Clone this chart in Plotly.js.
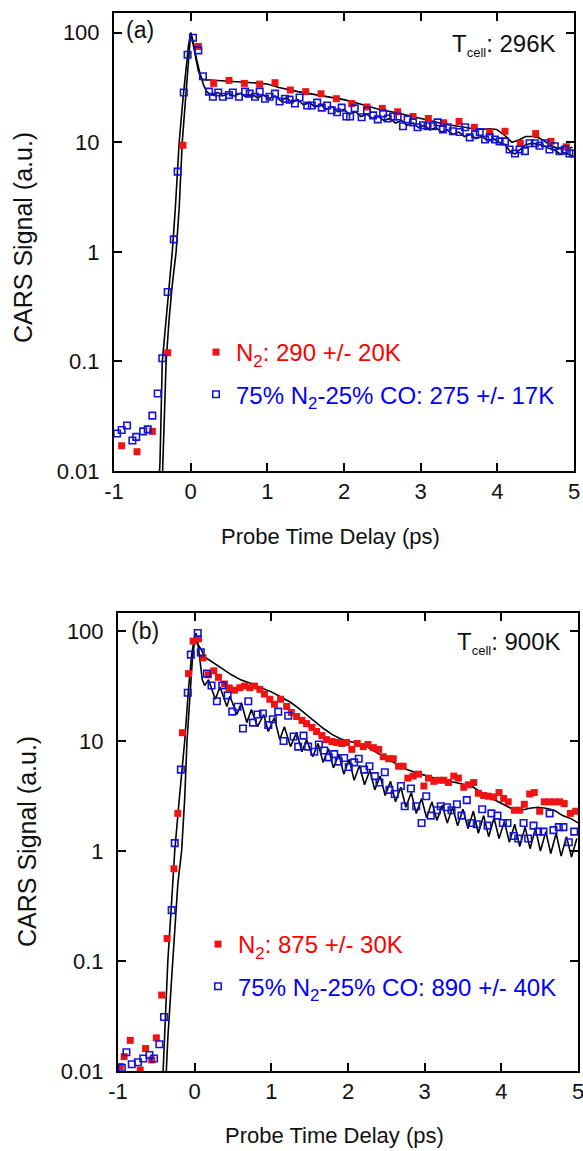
<!DOCTYPE html>
<html>
<head>
<meta charset="utf-8">
<script src="https://cdn.plot.ly/plotly-3.0.1.min.js"></script>
<style>html,body{margin:0;padding:0;background:#fff;}#chart{width:583px;height:1151px;}</style>
</head>
<body>
<div id="chart"></div>
<script>
// ---------- tick labels ----------
const xTickVals = [-1, 0, 1, 2, 3, 4, 5];
const xTickText = ['-1', '0', '1', '2', '3', '4', '5'];
const yTickVals = [0.01, 0.1, 1, 10, 100];
const yTickText = ['0.01', '0.1', '1', '10', '100'];

// ---------- panel (a): T_cell 296 K ----------
const aRedX = [-0.9,-0.7,-0.5,-0.3,-0.1,0.1,0.3,0.5,0.7,0.9,1.1,1.3,1.5,1.7,1.9,2.1,2.3,2.5,2.7,2.9,3.1,3.3,3.5,3.7,3.9,4.1,4.3,4.5,4.7,4.9];
const aRedY = [0.017,0.015,0.023,0.12,9.4,75,34.5,36.7,34.5,34,35,30,29,27.7,25,22.6,21,20.4,19,17.2,16.5,15.1,15.5,13.7,12.4,12.6,9.8,12,10.2,9.1];

const aBlueX = [-0.96,-0.90,-0.83,-0.76,-0.71,-0.62,-0.56,-0.50,-0.43,-0.37,-0.30,-0.22,-0.17,-0.09,-0.04,0.03,0.10,0.16,0.24,0.29,0.36,0.42,0.50,0.55,0.63,0.71,0.77,0.84,0.90,0.97,1.03,1.10,1.16,1.23,1.29,1.36,1.42,1.52,1.58,1.65,1.71,1.78,1.84,1.91,1.97,2.03,2.08,2.14,2.23,2.30,2.38,2.44,2.51,2.57,2.64,2.70,2.77,2.83,2.90,2.96,3.03,3.09,3.16,3.22,3.29,3.35,3.42,3.51,3.58,3.64,3.71,3.77,3.84,3.90,3.97,4.03,4.10,4.16,4.23,4.29,4.36,4.42,4.49,4.55,4.62,4.68,4.75,4.81,4.88,4.94,4.99];
const aBlueY = [0.022,0.0237,0.026,0.019,0.0205,0.023,0.024,0.032,0.051,0.107,0.43,1.3,5.4,28.5,63,90,69,40,29,26,28.5,26,27,28.5,26,29,27.8,26,29,25,26,27.8,23.6,25,24.5,22.6,25.6,21.7,21.7,23,20.7,21.7,19.6,18.8,20.7,17.2,17.2,20.4,16.9,19.5,17.6,16.2,18.3,16.5,17.2,17.2,14,16.2,15.2,13.7,14.3,14,14,15.2,13.1,13.7,12.6,12.4,13.7,11.1,11.8,12.4,10.6,11.1,10.6,10.2,10.2,8.6,7.9,8.6,8.3,9.8,9.8,9.3,9.8,8.6,9.2,8.3,8.6,7.9,7.9];

const aFitN2X = [-0.38,-0.35,-0.32,-0.28,-0.24,-0.19,-0.15,-0.11,-0.07,-0.04,-0.02,0,0.03,0.06,0.1,0.14,0.18,0.25,0.4,0.6,0.8,1.0,1.15,1.4,1.6,1.8,2.0,2.2,2.45,2.7,2.88,3.1,3.32,3.55,3.75,3.9,3.99,4.1,4.19,4.28,4.37,4.46,4.54,4.62,4.71,4.8,4.89,4.98];
const aFitN2Y = [0.005,0.02,0.1,0.25,0.5,1,2.5,10,25,50,75,100,80,60,45,38,37,37,36.5,36,35,34,31.6,29,27.5,26,24.5,22.5,20,18.5,17.2,15.8,14.6,13.8,13.1,13.3,13.1,11.5,10,10.5,11.3,11.3,11,10.2,9.2,8.8,8.6,9];

const aFitMixX = [-0.43,-0.40,-0.37,-0.33,-0.28,-0.24,-0.20,-0.15,-0.10,-0.06,-0.03,0,0.03,0.07,0.12,0.17,0.21,0.25,0.30,0.35,0.42,0.50,0.57,0.65,0.72,0.80,0.87,0.95,1.02,1.10,1.17,1.25,1.32,1.40,1.47,1.55,1.62,1.70,1.77,1.85,1.92,2.00,2.07,2.15,2.22,2.30,2.37,2.45,2.52,2.60,2.67,2.75,2.82,2.90,2.97,3.05,3.12,3.20,3.27,3.35,3.42,3.50,3.57,3.65,3.72,3.80,3.87,3.95,4.02,4.10,4.17,4.23,4.30,4.37,4.45,4.52,4.60,4.67,4.75,4.82,4.90,5.00];
const aFitMixY = [0.005,0.012,0.1,0.2,0.45,1,2.5,10,25,50,75,100,85,60,43,33,29,27.5,27,28.5,26.5,28,26.5,28,26,27.5,25.5,27,25,26.5,24,25.5,23,24.5,22,23,21,22,20,21,19,20,18,19,17.2,18,16.5,17.2,15.8,16.5,15,15.8,14.3,15,13.6,14.3,13,13.6,12.4,13,11.8,12.4,11.3,11.8,10.8,11.3,10.4,10.8,10,9.5,8.2,7.8,8.6,9.5,9.8,9.6,9.4,8.8,8.5,7.8,7.9,7.4];

// ---------- panel (b): T_cell 900 K ----------
const bRedX = [-0.97,-0.92,-0.84,-0.71,-0.64,-0.56,-0.50,-0.43,-0.36,-0.27,-0.22,-0.16,-0.08,-0.02,0.05,0.11,0.18,0.25,0.31,0.39,0.45,0.52,0.59,0.65,0.72,0.78,0.85,0.91,0.98,1.04,1.12,1.20,1.26,1.33,1.40,1.46,1.53,1.59,1.66,1.72,1.79,1.85,1.92,1.98,2.05,2.12,2.20,2.26,2.33,2.40,2.46,2.53,2.59,2.66,2.72,2.78,2.85,2.92,2.99,3.05,3.12,3.18,3.25,3.31,3.38,3.44,3.51,3.57,3.64,3.70,3.77,3.83,3.90,3.97,4.03,4.09,4.17,4.24,4.30,4.37,4.43,4.50,4.56,4.63,4.69,4.76,4.82,4.90,4.97];
const bRedY = [0.011,0.0135,0.019,0.0102,0.016,0.0126,0.020,0.049,0.16,0.69,2.2,11.9,41,81,85,57,40,43.5,38,33,30.4,29,30.5,31.6,30.5,31.6,29.5,26.7,24,21.6,24,20.6,18.2,16.7,15.4,14.4,13.3,12.2,11.2,10.3,9.9,9.7,9.5,9.7,8.4,9.5,8.9,9.3,8.7,8.4,7.2,6.9,6.9,5.9,5.9,4.6,4.8,5.0,3.9,4.6,4.3,4.4,4.4,4.2,4.8,4.6,3.8,4.0,4.2,3.35,3.2,3.15,3.1,3.4,3.0,2.8,2.35,2.35,2.66,3.3,3.4,2.3,2.8,2.8,2.8,2.8,2.7,2.2,2.3];

const bBlueX = [-0.95,-0.89,-0.82,-0.74,-0.67,-0.59,-0.53,-0.46,-0.40,-0.30,-0.26,-0.18,-0.09,-0.05,0.04,0.08,0.16,0.22,0.29,0.36,0.43,0.49,0.56,0.63,0.70,0.76,0.82,0.89,0.96,1.02,1.09,1.16,1.22,1.29,1.35,1.42,1.48,1.56,1.62,1.69,1.75,1.82,1.88,1.95,2.01,2.08,2.14,2.21,2.28,2.35,2.41,2.48,2.54,2.61,2.69,2.74,2.82,2.89,2.96,3.02,3.08,3.16,3.21,3.29,3.35,3.42,3.48,3.55,3.61,3.68,3.75,3.82,3.87,3.95,4.02,4.08,4.16,4.22,4.29,4.35,4.42,4.48,4.55,4.63,4.68,4.75,4.81,4.88,4.95];
const bBlueY = [0.0107,0.0148,0.0115,0.012,0.013,0.014,0.013,0.0175,0.031,0.29,1.18,5.5,27.5,61,96,64,41,32,23,32,26,18.5,20.5,13,23,14.7,17.4,17.8,14,15.8,18.5,10,17,11,8.9,11.2,8.9,8.0,9.3,8.2,7.1,7.6,6.5,7.0,5.8,6.4,6.9,5.5,5.9,4.8,4.2,5.2,3.6,3.3,3.9,2.55,3.7,2.55,1.8,3.15,2.1,2.35,2.55,2.5,2.35,2.66,2.1,2.9,1.8,1.75,2.4,1.7,2.2,2.1,1.8,1.8,1.37,1.3,1.8,1.3,1.7,1.5,1.5,2.2,1.55,1.65,1.65,1.2,1.5];

const bFitN2X = [-0.39,-0.35,-0.30,-0.27,-0.22,-0.17,-0.13,-0.10,-0.06,-0.03,0,0.03,0.09,0.13,0.2,0.26,0.35,0.48,0.6,0.7,0.8,0.91,1.0,1.13,1.25,1.35,1.45,1.56,1.68,1.79,1.9,2.0,2.1,2.22,2.31,2.5,2.74,2.95,3.18,3.4,3.61,3.8,4.04,4.15,4.26,4.37,4.48,4.58,4.69,4.8,4.92,5.0];
const bFitN2Y = [0.005,0.02,0.07,0.15,0.5,1,3,10,28,55,82,78,67,58,54,51,46,40,36,34,32,30,28,25,22.5,20,17.5,15,13,11.5,10.5,10,9.6,9.2,8.3,7.0,5.6,5.0,4.5,4.2,3.9,3.2,2.6,2.4,2.35,2.45,2.5,2.45,2.35,2.1,1.95,1.8];

const bFitMixX = [-0.43,-0.39,-0.35,-0.30,-0.26,-0.20,-0.13,-0.08,-0.04,0,0.02,0.05,0.08,0.10,0.13,0.18,0.27,0.33,0.42,0.46,0.55,0.61,0.68,0.74,0.82,0.90,0.96,1.04,1.11,1.17,1.25,1.33,1.40,1.46,1.54,1.61,1.675,1.745,1.81,1.88,1.945,2.015,2.08,2.15,2.215,2.285,2.35,2.42,2.485,2.555,2.62,2.69,2.755,2.825,2.89,2.96,3.025,3.095,3.16,3.23,3.295,3.365,3.43,3.50,3.565,3.635,3.70,3.77,3.835,3.905,3.97,4.04,4.105,4.175,4.24,4.31,4.375,4.445,4.51,4.58,4.645,4.715,4.78,4.85,4.915,4.985];
const bFitMixY = [0.005,0.02,0.1,0.35,1,3,10,30,60,90,95,70,45,36,32,36,24,31,20.6,25.5,17.4,22.3,14.7,19.3,13.5,17.4,12.2,16.3,10.3,13.5,8.9,12,8.0,10.3,7.2,9.5,6.4,8.5,5.7,7.6,5.0,6.8,4.4,6.0,4.0,5.4,3.6,4.8,3.2,4.3,2.8,3.8,2.5,3.4,2.2,3.0,2.0,2.8,1.9,2.6,1.8,2.5,1.7,2.4,1.6,2.3,1.45,2.1,1.35,2.0,1.3,1.85,1.2,1.75,1.1,1.65,1.05,1.6,1.0,1.5,0.95,1.45,0.9,1.35,0.88,1.3];

// ---------- text ----------
const aRedName = '<span style="color:#ff0000">N<sub>2</sub>: 290 +/- 20K</span>';
const aBlueName = '<span style="color:#0000ff">75% N<sub>2</sub>-25% CO: 275 +/- 17K</span>';
const bRedName = '<span style="color:#ff0000">N<sub>2</sub>: 875 +/- 30K</span>';
const bBlueName = '<span style="color:#0000ff">75% N<sub>2</sub>-25% CO: 890 +/- 40K</span>';
const aCellText = 'T<sub><span style="font-size:13px">cell</span></sub>: 296K';
const bCellText = 'T<sub><span style="font-size:13px">cell</span></sub>: 900K';
const xTitleText = 'Probe Time Delay (ps)';
const yTitleText = 'CARS Signal (a.u.)';

// ---------- styling ----------
const FONT = 'Arial, "Liberation Sans", Helvetica, sans-serif';
const RED = 'rgb(238,20,20)';
const BLUE = 'rgb(20,20,215)';
const W = 583, H = 1151;
const px = v => v / W;
const py = v => 1 - v / H;

function fitLine(x, y, xa, ya) {
  return {x: x, y: y, xaxis: xa, yaxis: ya, type: 'scatter', mode: 'lines',
          line: {color: 'black', width: 1.6}, showlegend: false, hoverinfo: 'skip'};
}
function redPts(x, y, xa, ya, name, leg, grp) {
  return {x: x, y: y, xaxis: xa, yaxis: ya, type: 'scatter', mode: 'markers', name: name,
          legend: leg, legendgroup: grp,
          marker: {symbol: 'square', size: 7, color: RED, line: {width: 0}}};
}
function bluePts(x, y, xa, ya, name, leg, grp) {
  return {x: x, y: y, xaxis: xa, yaxis: ya, type: 'scatter', mode: 'markers', name: name,
          legend: leg, legendgroup: grp,
          marker: {symbol: 'square-open', size: 6.5, color: BLUE, line: {width: 1.6, color: BLUE}}};
}

const traces = [
  fitLine(aFitN2X, aFitN2Y, 'x', 'y'),
  fitLine(aFitMixX, aFitMixY, 'x', 'y'),
  redPts(aRedX, aRedY, 'x', 'y', aRedName, 'legend', 'aR'),
  bluePts(aBlueX, aBlueY, 'x', 'y', aBlueName, 'legend', 'aB'),
  fitLine(bFitN2X, bFitN2Y, 'x2', 'y2'),
  fitLine(bFitMixX, bFitMixY, 'x2', 'y2'),
  redPts(bRedX, bRedY, 'x2', 'y2', bRedName, 'legend2', 'bR'),
  bluePts(bBlueX, bBlueY, 'x2', 'y2', bBlueName, 'legend2', 'bB')
];

function xAxis(dom, anchor) {
  return {domain: dom, anchor: anchor, range: [-1, 5], tickvals: xTickVals, ticktext: xTickText,
          ticks: 'inside', ticklen: 8, tickwidth: 2, tickcolor: '#000',
          showline: true, linewidth: 2, linecolor: '#000', mirror: 'ticks',
          showgrid: false, zeroline: false, automargin: false, ticklabeloverflow: 'allow',
          tickfont: {family: FONT, size: 22, color: '#111'}};
}
function yAxis(dom, anchor, top) {
  return {domain: dom, anchor: anchor, type: 'log', range: [-2, top], tickvals: yTickVals, ticktext: yTickText,
          ticks: 'inside', ticklen: 8, tickwidth: 2, tickcolor: '#000',
          showline: true, linewidth: 2, linecolor: '#000', mirror: 'ticks',
          showgrid: false, zeroline: false, automargin: false, ticklabeloverflow: 'allow',
          ticklabelstandoff: 8,
          tickfont: {family: FONT, size: 22, color: '#111'}};
}

function ann(text, x, y, size, xanchor, opts) {
  return Object.assign({text: text, xref: 'paper', yref: 'paper', x: px(x), y: py(y),
          xanchor: xanchor, yanchor: 'middle', showarrow: false,
          font: {family: FONT, size: size, color: '#111'}}, opts || {});
}

const legendStyle = {xanchor: 'left', yanchor: 'top', bgcolor: 'rgba(0,0,0,0)', borderwidth: 0,
                     font: {family: FONT, size: 24}, traceorder: 'grouped', tracegroupgap: 8, itemwidth: 30};

const layout = {
  width: W, height: H,
  margin: {l: 0, r: 0, t: 0, b: 0, pad: 0},
  paper_bgcolor: '#fff', plot_bgcolor: '#fff',
  showlegend: true,
  xaxis: xAxis([px(114), px(574)], 'y'),
  yaxis: yAxis([py(471), py(13)], 'x', 2.18),
  xaxis2: xAxis([px(118), px(578)], 'y2'),
  yaxis2: yAxis([py(1071), py(613)], 'x2', 2.164),
  legend: Object.assign({x: px(196), y: py(330)}, legendStyle),
  legend2: Object.assign({x: px(198), y: py(922)}, legendStyle),
  annotations: [
    ann('(a)', 124, 30, 23, 'left'),
    ann(aCellText, 558, 45, 24, 'right'),
    ann('(b)', 129, 631, 23, 'left'),
    ann(bCellText, 563, 643, 24, 'right'),
    ann(xTitleText, 330, 537, 22, 'center'),
    ann(xTitleText, 334, 1135, 22, 'center'),
    ann(yTitleText, 23, 238, 25, 'center', {textangle: -90}),
    ann(yTitleText, 27, 842, 25, 'center', {textangle: -90})
  ]
};

Plotly.newPlot('chart', traces, layout, {staticPlot: true, displayModeBar: false});
</script>
</body>
</html>
